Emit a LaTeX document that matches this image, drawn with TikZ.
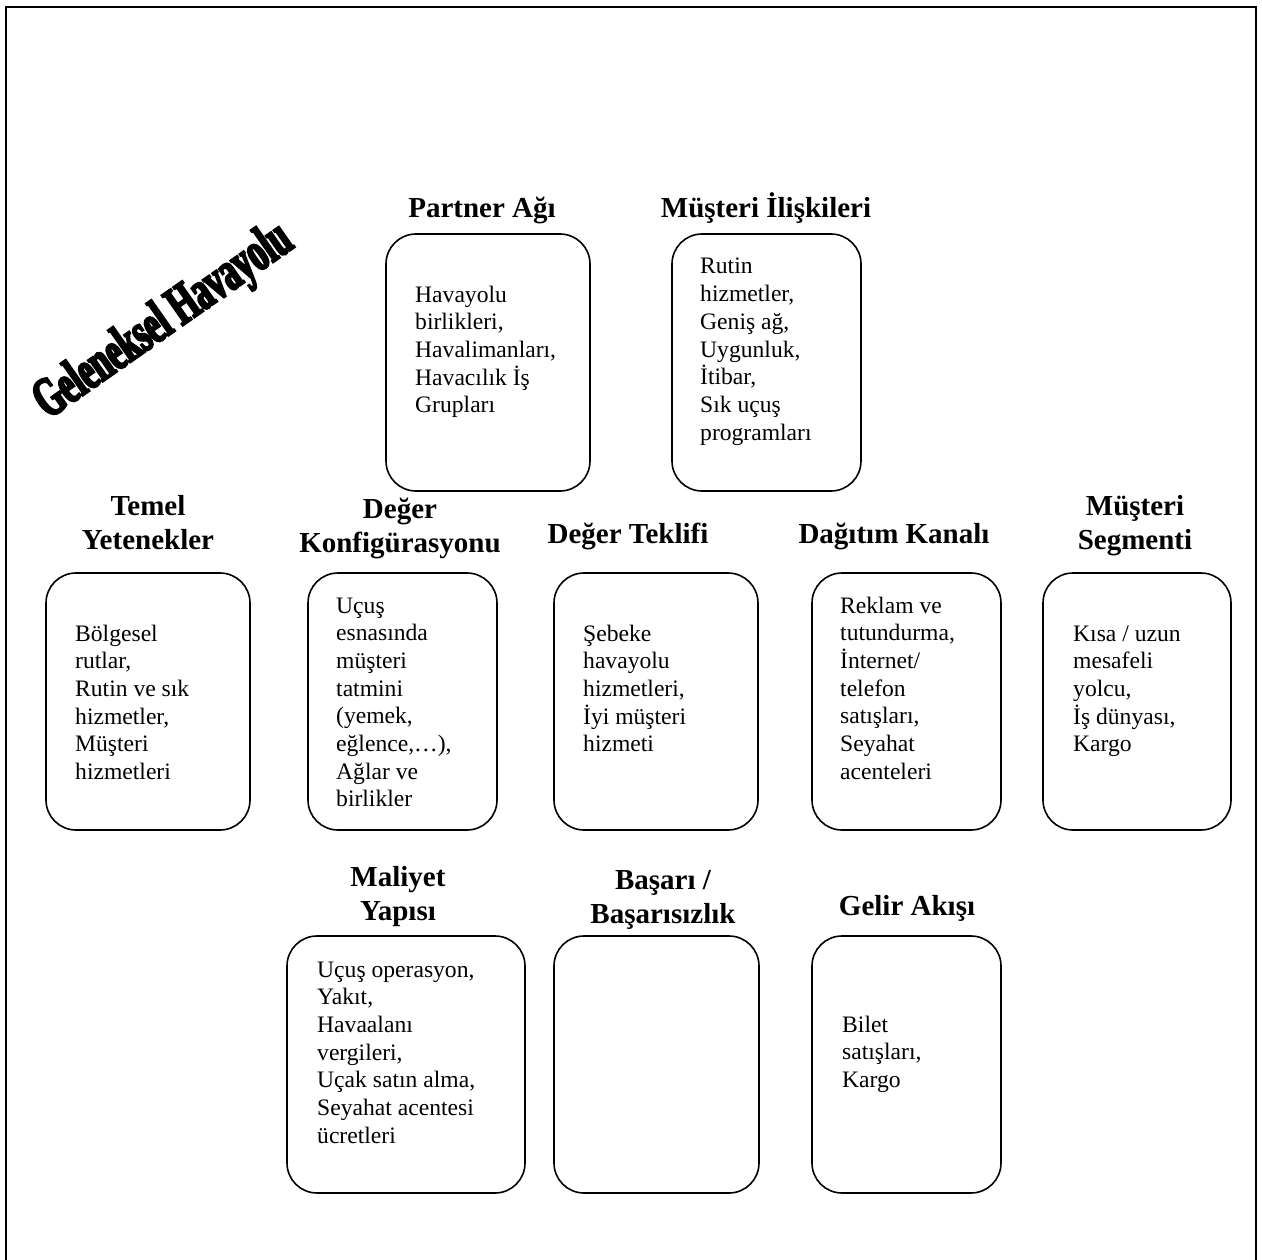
\documentclass[tikz,border=0pt]{standalone}
\usepackage{fontspec}
\setmainfont{Liberation Serif}
\newfontface\wordart[FakeBold=4,FakeStretch=0.6]{Liberation Serif Bold}
\newcommand\headtab[1]{\begin{tabular}[t]{@{}c@{}}#1\end{tabular}}
\newcommand\bodytab[1]{\begin{tabular}[t]{@{}l@{}}#1\end{tabular}}
\begin{document}
\begin{tikzpicture}[x=1pt,y=-1pt,
  card/.style={draw, line width=1.6pt, rounded corners=30pt, minimum height=257pt,
    anchor=north west, inner sep=0pt, outer sep=0pt},
  head/.style={anchor=base, inner sep=0pt, font=\fontsize{29}{34.5}\selectfont\bfseries},
  body/.style={anchor=base west, inner sep=0pt, font=\fontsize{23.6}{27.7}\selectfont},
]
\useasboundingbox (0,0) rectangle (1262,1260);
\fill[white] (0,0) rectangle (1262,1260);

% page frame, open at the bottom
\draw[line width=2pt] (6,1275) -- (6,7) -- (1256,7) -- (1256,1275);

% slanted title
\node[rotate=35, anchor=base, inner sep=0pt,
      font=\wordart\fontsize{56}{56}\selectfont] (title) at (172,333) {Geleneksel Havayolu};

% top row
\node[card, minimum width=204pt] (paBox) at (386,234) {};
\node[head] (paHead) at (482,218) {Partner Ağı};
\node[body] (paText) at (415,302) {\bodytab{Havayolu\\birlikleri,\\Havalimanları,\\Havacılık İş\\Grupları}};

\node[card, minimum width=189pt] (miBox) at (672,234) {};
\node[head] (miHead) at (766,218) {Müşteri İlişkileri};
\node[body] (miText) at (700,274) {\bodytab{Rutin\\hizmetler,\\Geniş ağ,\\Uygunluk,\\İtibar,\\Sık uçuş\\programları}};

% middle row
\node[card, minimum width=204pt] (tyBox) at (46,573) {};
\node[head] (tyHead) at (148,515) {\headtab{Temel\\Yetenekler}};
\node[body] (tyText) at (75,641) {\bodytab{Bölgesel\\rutlar,\\Rutin ve sık\\hizmetler,\\Müşteri\\hizmetleri}};

\node[card, minimum width=189pt] (dkBox) at (308,573) {};
\node[head] (dkHead) at (400,518) {\headtab{Değer\\Konfigürasyonu}};
\node[body] (dkText) at (336,613) {\bodytab{Uçuş\\esnasında\\müşteri\\tatmini\\(yemek,\\eğlence,…),\\Ağlar ve\\birlikler}};

\node[card, minimum width=204pt] (dtBox) at (554,573) {};
\node[head] (dtHead) at (628,543) {Değer Teklifi};
\node[body] (dtText) at (583,641) {\bodytab{Şebeke\\havayolu\\hizmetleri,\\İyi müşteri\\hizmeti}};

\node[card, minimum width=189pt] (dgBox) at (812,573) {};
\node[head] (dgHead) at (894,543) {Dağıtım Kanalı};
\node[body] (dgText) at (840,613) {\bodytab{Reklam ve\\tutundurma,\\İnternet/\\telefon\\satışları,\\Seyahat\\acenteleri}};

\node[card, minimum width=188pt] (msBox) at (1043,573) {};
\node[head] (msHead) at (1135,515) {\headtab{Müşteri\\Segmenti}};
\node[body] (msText) at (1073,641) {\bodytab{Kısa / uzun\\mesafeli\\yolcu,\\İş dünyası,\\Kargo}};

% bottom row
\node[card, minimum width=238pt] (myBox) at (287,936) {};
\node[head] (myHead) at (398,886) {\headtab{Maliyet\\Yapısı}};
\node[body] (myText) at (317,977) {\bodytab{Uçuş operasyon,\\Yakıt,\\Havaalanı\\vergileri,\\Uçak satın alma,\\Seyahat acentesi\\ücretleri}};

\node[card, minimum width=205pt] (bbBox) at (554,936) {};
\node[head] (bbHead) at (663,889) {\headtab{Başarı /\\Başarısızlık}};

\node[card, minimum width=189pt] (gaBox) at (812,936) {};
\node[head] (gaHead) at (907,915) {Gelir Akışı};
\node[body] (gaText) at (842,1032) {\bodytab{Bilet\\satışları,\\Kargo}};
\end{tikzpicture}
\end{document}
